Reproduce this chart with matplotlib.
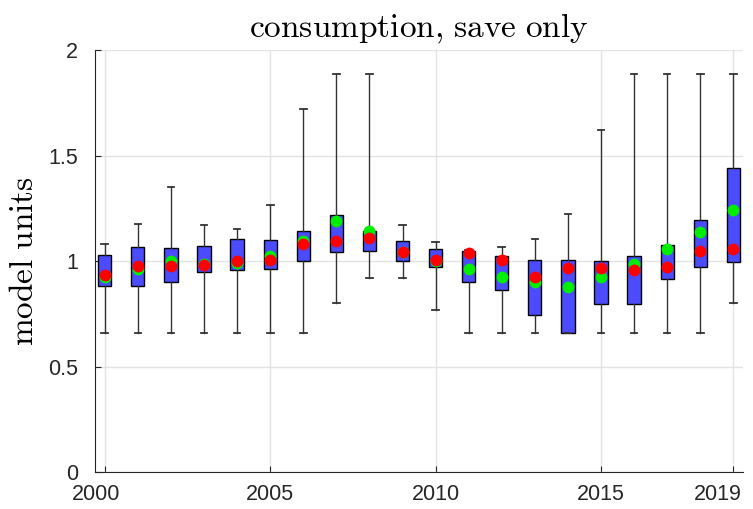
import matplotlib
matplotlib.use('Agg')
import matplotlib.pyplot as plt
import matplotlib.transforms as mtransforms

plt.rcParams['mathtext.fontset'] = 'cm'
plt.rcParams['font.family'] = ['Liberation Sans', 'DejaVu Sans']

years = list(range(2000, 2020))
whis_lo = [0.66, 0.66, 0.66, 0.66, 0.66, 0.66, 0.66, 0.80, 0.92, 0.92,
           0.77, 0.66, 0.66, 0.66, 0.66, 0.66, 0.66, 0.66, 0.66, 0.80]
q1 = [0.883, 0.883, 0.900, 0.946, 0.956, 0.961, 1.002, 1.041, 1.047, 1.002,
      0.973, 0.902, 0.861, 0.742, 0.659, 0.796, 0.796, 0.915, 0.970, 0.995]
q3 = [1.027, 1.066, 1.063, 1.073, 1.104, 1.098, 1.142, 1.218, 1.142, 1.093,
      1.055, 1.047, 1.025, 1.003, 1.003, 1.000, 1.025, 1.076, 1.196, 1.441]
whis_hi = [1.081, 1.175, 1.349, 1.172, 1.150, 1.264, 1.720, 1.888, 1.888, 1.172,
           1.092, 1.050, 1.065, 1.103, 1.221, 1.622, 1.888, 1.888, 1.888, 1.888]
green = [0.924, 0.962, 1.002, 0.986, 0.990, 1.025, 1.093, 1.188, 1.141, 1.043,
         1.000, 0.964, 0.924, 0.899, 0.878, 0.926, 0.987, 1.058, 1.137, 1.243]
red = [0.935, 0.975, 0.978, 0.983, 1.002, 1.003, 1.082, 1.095, 1.107, 1.043,
       1.005, 1.038, 1.003, 0.923, 0.965, 0.965, 0.957, 0.973, 1.047, 1.058]

fig = plt.figure(figsize=(7.53, 5.09), dpi=100)
ax = fig.add_axes([0.126, 0.0727, 0.861, 0.829])

stats = []
for i in range(len(years)):
    stats.append({'whislo': whis_lo[i], 'q1': q1[i], 'med': (q1[i] + q3[i]) / 2,
                  'q3': q3[i], 'whishi': whis_hi[i], 'fliers': []})

ax.bxp(stats, positions=years, widths=0.4, patch_artist=True,
       showfliers=False, manage_ticks=False,
       boxprops=dict(facecolor='#4b4bff', edgecolor='black', linewidth=1),
       whiskerprops=dict(color='#333333', linewidth=1),
       capprops=dict(color='#333333', linewidth=1.3),
       capwidths=0.2,
       medianprops=dict(linewidth=0))

ax.plot(years, green, 'o', color='#00ee00', markersize=7.5, zorder=4)
ax.plot(years, red, 'o', color='#ff0000', markersize=7.5, zorder=5)

ax.set_xlim(1999.7, 2019.3)
ax.set_ylim(0, 2)
ax.set_xticks([2000, 2005, 2010, 2015, 2019])
ax.set_yticks([0, 0.5, 1, 1.5, 2])
ax.set_yticklabels(['0', '0.5', '1', '1.5', '2'])
ax.grid(True, color='#e3e3e3', linewidth=1)
ax.set_axisbelow(True)
for s in ['top', 'right']:
    ax.spines[s].set_visible(False)
for s in ['left', 'bottom']:
    ax.spines[s].set_color('#262626')
ax.tick_params(direction='in', length=4, colors='#262626', labelsize=15.5)
ax.tick_params(axis='y', pad=12)
ax.tick_params(axis='x', pad=9)

# matlab pushes the end labels inwards a bit
xlabs = ax.get_xticklabels()
xlabs[0].set_transform(xlabs[0].get_transform() +
                       mtransforms.ScaledTranslation(-9 / 100, 0, fig.dpi_scale_trans))
xlabs[-1].set_transform(xlabs[-1].get_transform() +
                        mtransforms.ScaledTranslation(-15 / 100, 0, fig.dpi_scale_trans))

ax.set_title(r'$\mathrm{consumption{,}\ save\ only}$', fontsize=24, pad=9)
ax.set_ylabel(r'$\mathrm{model\ units}$', fontsize=24, labelpad=6)

fig.savefig('out.png', dpi=100)
